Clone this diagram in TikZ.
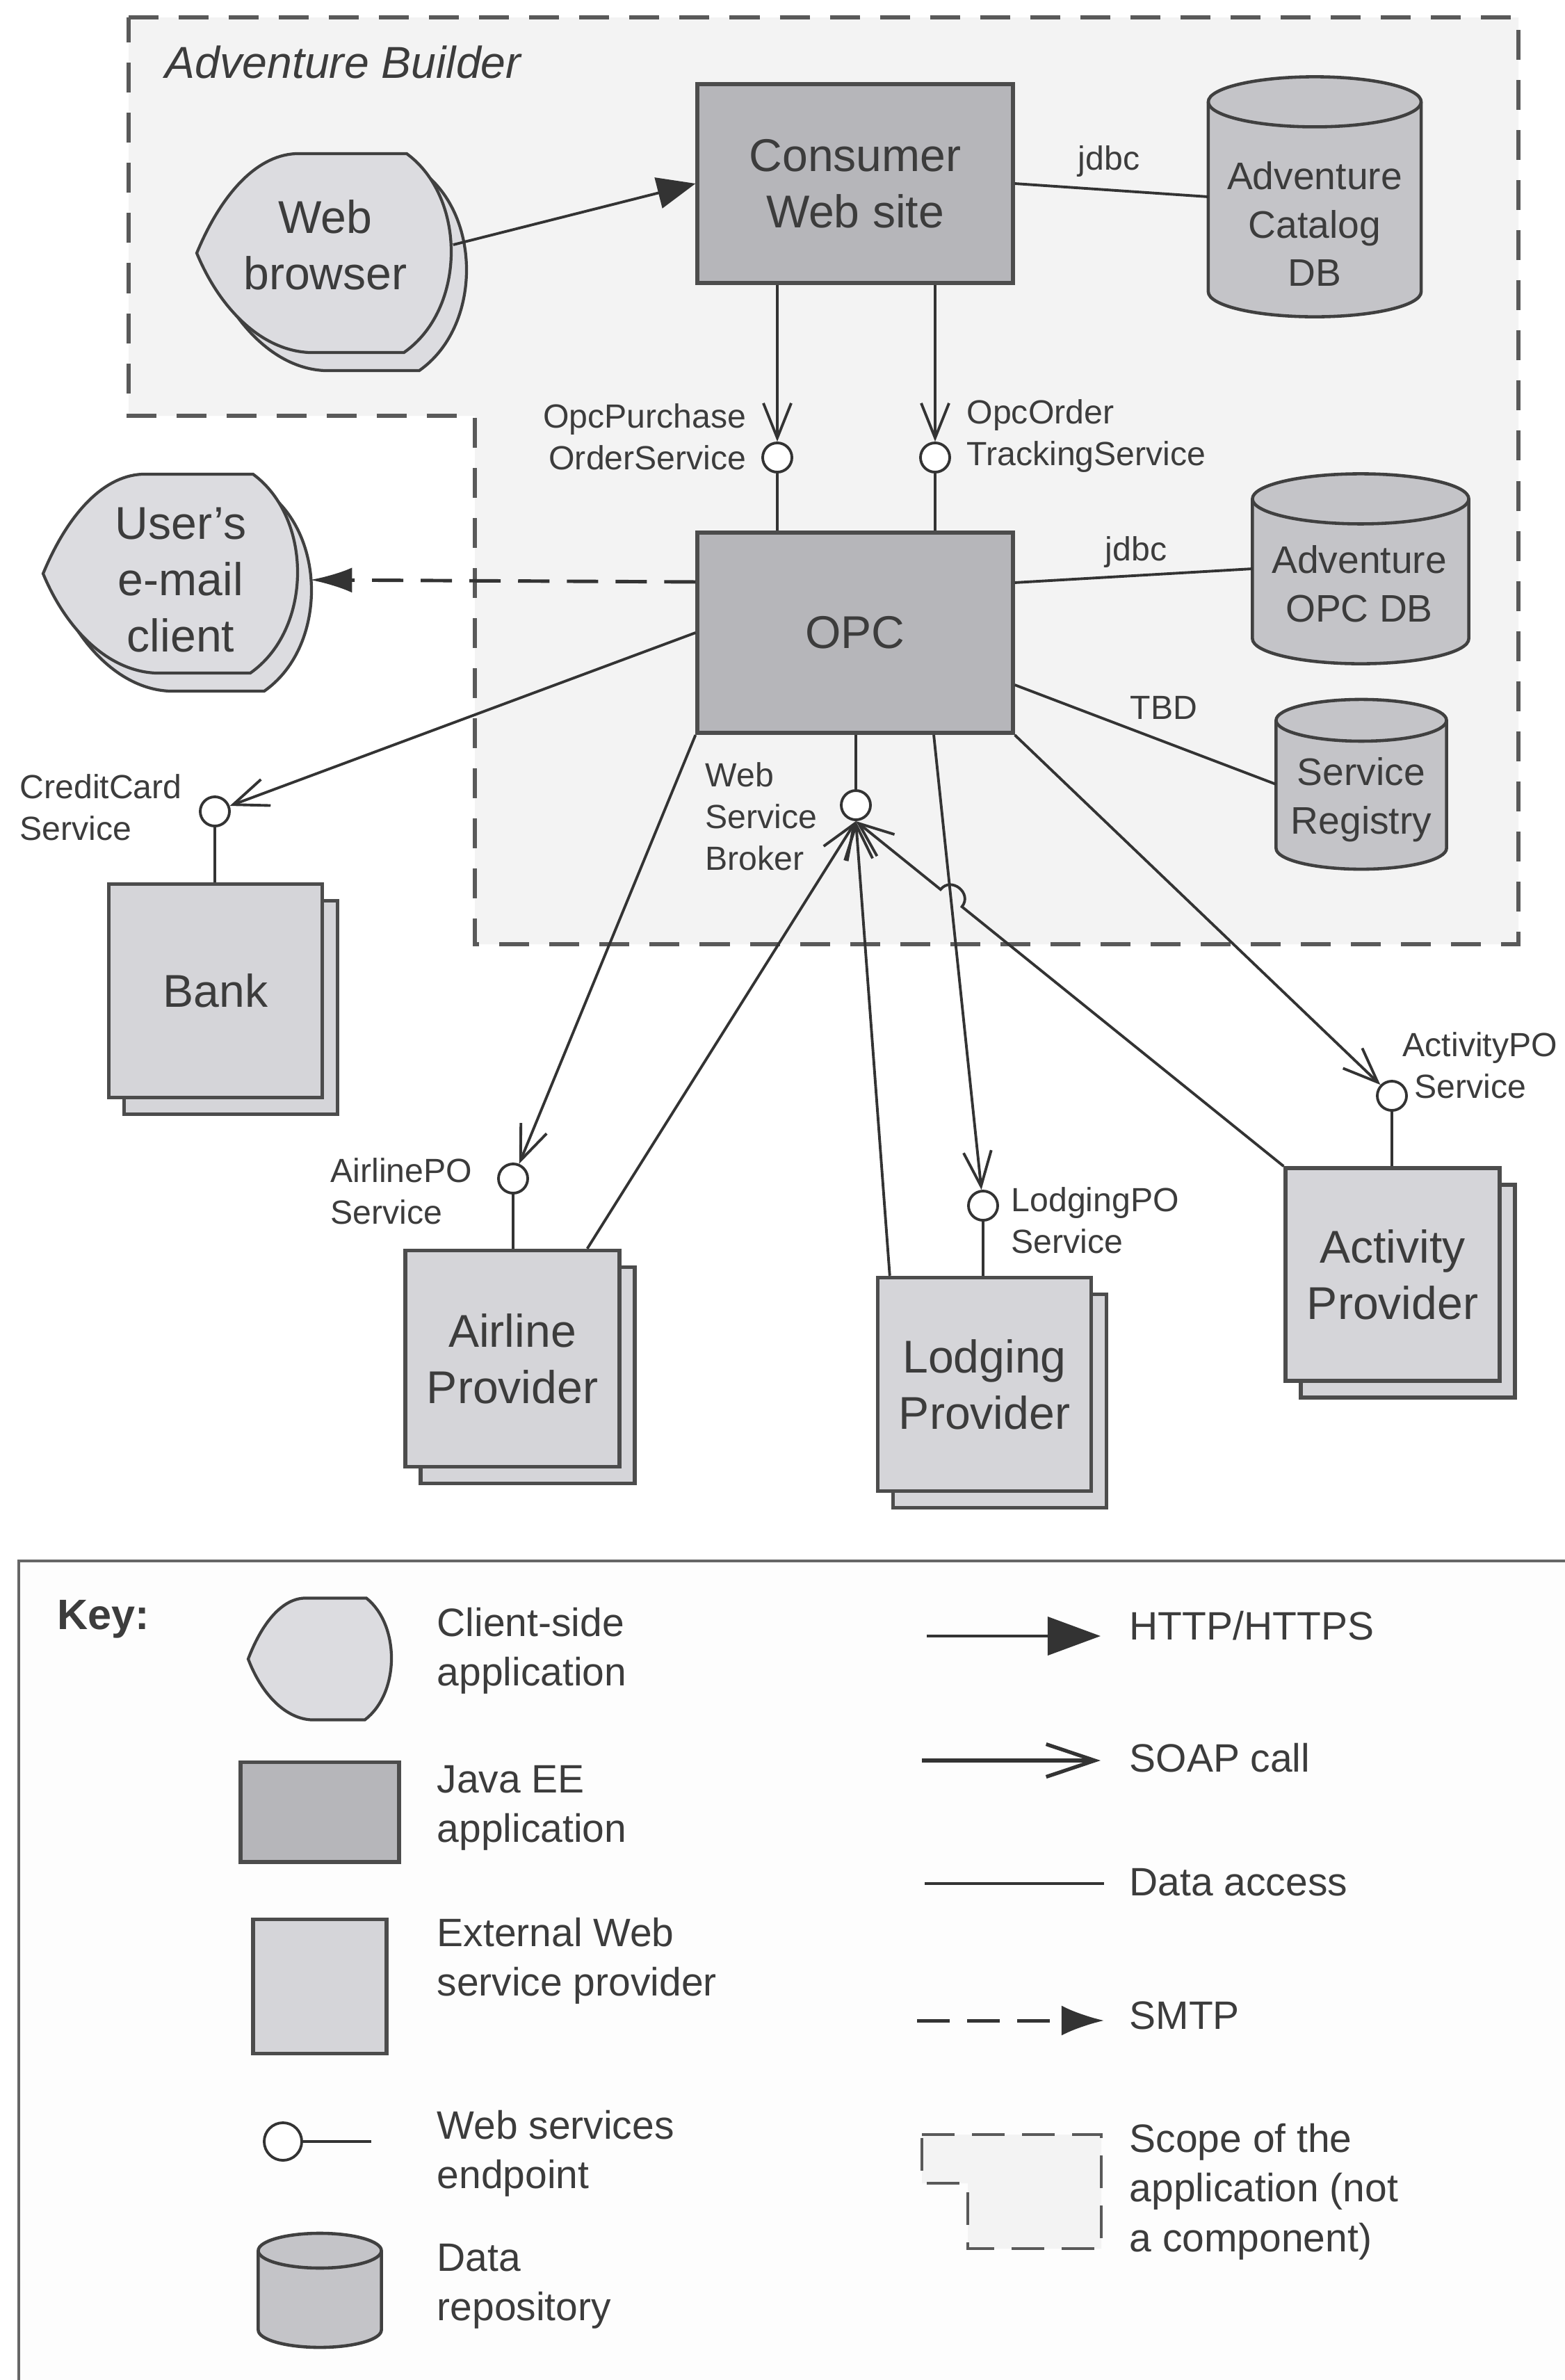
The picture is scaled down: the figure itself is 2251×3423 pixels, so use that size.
\documentclass[tikz,border=0pt]{standalone}
\usepackage{fontspec}
\setmainfont{Liberation Sans}
\usepackage{tikz}
\usetikzlibrary{arrows.meta,calc,shadows,positioning}

\definecolor{inkgray}{HTML}{3C3C3C}
\definecolor{linegray}{HTML}{333333}
\definecolor{scopegray}{HTML}{F3F3F3}
\definecolor{eefill}{HTML}{B6B6BA}
\definecolor{extfill}{HTML}{D5D5D9}
\definecolor{clientfill}{HTML}{DCDCE0}
\definecolor{dbfill}{HTML}{C4C4C8}
\definecolor{keyfill}{HTML}{FDFDFD}

\begin{document}
\begin{tikzpicture}[x=0.01cm, y=-0.01cm,
    every node/.style={text=inkgray},
    big/.style={font=\fontsize{18.8}{23}\selectfont},
    mid/.style={font=\fontsize{15.7}{19.8}\selectfont, align=center, inner sep=0pt},
    tiny/.style={font=\fontsize{13.7}{17}\selectfont, inner sep=0pt},
    keytxt/.style={font=\fontsize{16.2}{20.3}\selectfont, anchor=west, align=left, inner sep=0pt},
    javaee/.style={draw=black!70, line width=1.7pt, fill=eefill, inner sep=0pt, big, align=center},
    extbox/.style={draw=black!70, line width=1.5pt, fill=extfill, inner sep=0pt, big, align=center},
    provider/.style={extbox, copy shadow={shadow xshift=0.22cm, shadow yshift=-0.24cm}},
    dbline/.style={draw=black!75, line width=1.3pt, fill=dbfill},
    endpt/.style={circle, draw=linegray, line width=1.1pt, fill=white, minimum size=0.42cm, inner sep=0pt},
    data/.style={draw=linegray, line width=1.1pt},
    soap/.style={data, -{Straight Barb[length=0.5cm, width=0.4cm]}},
    http/.style={data, -{Triangle[length=0.55cm, width=0.45cm]}},
    smtp/.style={data, line width=1.4pt, dash pattern=on 0.45cm off 0.25cm,
        -{Latex[length=0.6cm, width=0.36cm]}},
    scopeline/.style={draw=black!65, line width=1.6pt, dash pattern=on 0.43cm off 0.29cm, fill=scopegray},
    clientline/.style={draw=black!75, line width=1.2pt, fill=clientfill},
    client/.pic={\path[clientline] (-41,-143) -- (119,-143)
        .. controls (205,-80) and (205,80) .. (115,143) -- (-21,143)
        .. controls (-90,140) and (-150,80) .. (-183,0)
        .. controls (-150,-80) and (-100,-140) .. cycle;},
    pics/dbcyl/.style args={#1/#2/#3}{code={
        \path[dbline] (-#1,{#2-#3}) -- (-#1,{-#2+#3})
          arc[start angle=180, end angle=360, x radius=#1, y radius=#3] -- (#1,{#2-#3})
          arc[start angle=0, end angle=180, x radius=#1, y radius=#3] -- cycle;
        \path[dbline, fill=none] (-#1,{#2-#3}) arc[start angle=180, end angle=360, x radius=#1, y radius=#3];
        \coordinate (-w) at (-#1,0);}}
  ]
  \path[use as bounding box, clip] (0,0) rectangle (2251,3423);

  % application scope
  \path[scopeline] (185,25) -- (2184,25) -- (2184,1358) -- (683,1358) -- (683,598) -- (185,598) -- cycle;
  \node[font=\fontsize{18.3}{22}\selectfont\itshape, anchor=west, inner sep=0pt] (title) at (237,90) {Adventure Builder};

  % client side
  \pic at (488,390) {client};
  \pic at (466,364) {client};
  \node[big, align=center, minimum width=3.66cm, minimum height=2.86cm, inner sep=0pt] (browser) at (468,352) {Web\\browser};
  \pic at (265,851) {client};
  \pic at (245,825) {client};
  \node[big, align=center, minimum width=3.71cm, minimum height=2.85cm, inner sep=0pt] (email) at (260,834) {User's\\e-mail\\client};

  % Java EE applications
  \node[javaee, minimum width=4.53cm, minimum height=2.86cm] (cws) at (1230,264) {Consumer\\Web site};
  \node[javaee, minimum width=4.53cm, minimum height=2.88cm] (opc) at (1230,910) {OPC};

  % data repositories
  \pic (catdb) at (1891,283) {dbcyl={1.53cm/1.725cm/0.36cm}};
  \node[mid] (catdbl) at (1891,322) {Adventure\\Catalog\\DB};
  \pic (opcdb) at (1957,818) {dbcyl={1.555cm/1.365cm/0.36cm}};
  \node[mid] (opcdbl) at (1955,840) {Adventure\\OPC DB};
  \pic (reg) at (1958,1128) {dbcyl={1.225cm/1.22cm/0.3cm}};
  \node[mid] (regl) at (1958,1150) {Service\\Registry};

  % endpoints
  \node[endpt] (opp) at (1118,658) {};
  \node[endpt] (opt) at (1345,658) {};
  \node[endpt] (ccs) at (309,1167) {};
  \node[endpt] (brk) at (1231,1158) {};
  \node[endpt] (apo) at (738,1695) {};
  \node[endpt] (lpo) at (1414,1734) {};
  \node[endpt] (xpo) at (2002,1576) {};

  \node[tiny, anchor=east, align=right] (oppl) at (1074,628) {OpcPurchase\\OrderService};
  \node[tiny, anchor=west, align=left] (optl) at (1390,627) {OpcOrder\\TrackingService};
  \node[tiny, anchor=west, align=left] (ccsl) at (28,1161) {CreditCard\\Service};
  \node[tiny, anchor=west, align=left] (brkl) at (1014,1174) {Web\\Service\\Broker};
  \node[tiny, anchor=west, align=left] (apol) at (475,1713) {AirlinePO\\Service};
  \node[tiny, anchor=west, align=left] (lpol) at (1454,1755) {LodgingPO\\Service};
  \node[tiny, anchor=west, align=left] (xpol) at (2017,1532) {ActivityPO\\\hspace*{0.17cm}Service};
  \node[tiny] (jdbc1) at (1595,232) {jdbc};
  \node[tiny] (jdbc2) at (1634,794) {jdbc};
  \node[tiny] (tbd) at (1674,1018) {TBD};

  % external providers
  \node[provider, minimum width=3.07cm, minimum height=3.07cm] (bank) at (310,1425) {Bank};
  \node[provider, minimum width=3.08cm, minimum height=3.11cm] (air) at (737,1954) {Airline\\Provider};
  \node[provider, minimum width=3.07cm, minimum height=3.07cm] (lodg) at (1416,1991) {Lodging\\Provider};
  \node[provider, minimum width=3.08cm, minimum height=3.06cm] (act) at (2003,1833) {Activity\\Provider};

  % connectors
  \draw[http] (browser.east) -- (cws.west);
  \draw[data] (cws.east) -- (catdb-w);
  \draw[data] ([yshift=0.72cm]opc.east) -- (opcdb-w);
  \draw[data] ([yshift=-0.75cm]opc.east) -- (reg-w);
  \draw[soap] (opp |- cws.south) -- (opp);
  \draw[data] (opp) -- (opp |- opc.north);
  \draw[soap] (opt |- cws.south) -- (opt);
  \draw[data] (opt) -- (opt |- opc.north);
  \draw[smtp] ([yshift=0.73cm]opc.west) -- (email.east);
  \draw[soap] (opc.west) -- (ccs);
  \draw[data] (ccs) -- (ccs |- bank.north);
  \draw[data] (brk |- opc.south) -- (brk);
  \draw[soap] (opc.south west) -- (apo);
  \draw[data] (apo) -- (apo |- air.north);
  \draw[soap] ([xshift=-0.49cm]air.north east) -- (brk.south);
  \draw[soap] ([xshift=1.13cm]opc.south) -- (lpo);
  \draw[data] (lpo) -- (lpo |- lodg.north);
  \draw[soap] ([xshift=0.2cm]lodg.north west) -- (brk.south);
  \draw[soap] (opc.south east) -- (xpo);
  \draw[data] (xpo) -- (xpo |- act.north);
  \draw[soap] (act.north west) -- ($(act.north west)!0.752!(brk.south)$)
    to[bend right=90, looseness=1.6] ($(act.north west)!0.802!(brk.south)$) -- (brk.south);

  % key
  \fill[keyfill] (27,2245) rectangle (2260,3440);
  \draw[black!60, line width=1.2pt] (27,3440) -- (27,2245) -- (2260,2245);
  \node[font=\fontsize{17.4}{20}\selectfont\bfseries, anchor=west, inner sep=0pt] (key) at (82,2329) {Key:};

  \pic[xscale=0.563, yscale=0.612] at (460,2386) {client};
  \node[keytxt] (kclientl) at (628,2374) {Client-side\\application};
  \node[javaee, minimum width=2.28cm, minimum height=1.43cm] (kee) at (460,2606) {};
  \node[keytxt] (keel) at (628,2600) {Java EE\\application};
  \node[extbox, minimum width=1.92cm, minimum height=1.93cm] (kext) at (460,2857) {};
  \node[keytxt] (kextl) at (628,2820) {External Web\\service provider};
  \node[endpt, minimum size=0.54cm] (kep) at (407,3080) {};
  \coordinate (kepend) at (534,3080);
  \draw[data] (kep) -- (kepend);
  \node[keytxt] (kepl) at (628,3097) {Web services\\endpoint};
  \pic (kdb) at (460,3294) {dbcyl={0.885cm/0.82cm/0.25cm}};
  \node[keytxt] (kdbl) at (628,3288) {Data\\repository};

  \coordinate (kh1) at (1333,2353);
  \coordinate (kh2) at (1583,2353);
  \draw[data, -{Triangle[length=0.76cm, width=0.55cm]}] (kh1) -- (kh2);
  \node[keytxt] (khl) at (1624,2338) {HTTP/HTTPS};
  \coordinate (ks1) at (1326,2532);
  \coordinate (ks2) at (1583,2532);
  \draw[data, line width=1.5pt, -{Straight Barb[length=0.7cm, width=0.47cm]}] (ks1) -- (ks2);
  \node[keytxt] (ksl) at (1624,2528) {SOAP call};
  \coordinate (kd1) at (1330,2709);
  \coordinate (kd2) at (1588,2709);
  \draw[data] (kd1) -- (kd2);
  \node[keytxt] (kdl) at (1624,2707) {Data access};
  \coordinate (km1) at (1319,2906);
  \coordinate (km2) at (1588,2906);
  \draw[smtp, dash pattern=on 0.47cm off 0.25cm, -{Latex[length=0.61cm, width=0.43cm]}] (km1) -- (km2);
  \node[keytxt] (kml) at (1624,2899) {SMTP};
  \path[scopeline, line width=1.1pt, dash pattern=on 0.47cm off 0.25cm]
    (1326,3070) -- (1584,3070) -- (1584,3234) -- (1392,3234) -- (1392,3140) -- (1326,3140) -- cycle;
  \node[keytxt] (kscl) at (1624,3152) {Scope of the\\application (not\\a component)};
\end{tikzpicture}
\end{document}
